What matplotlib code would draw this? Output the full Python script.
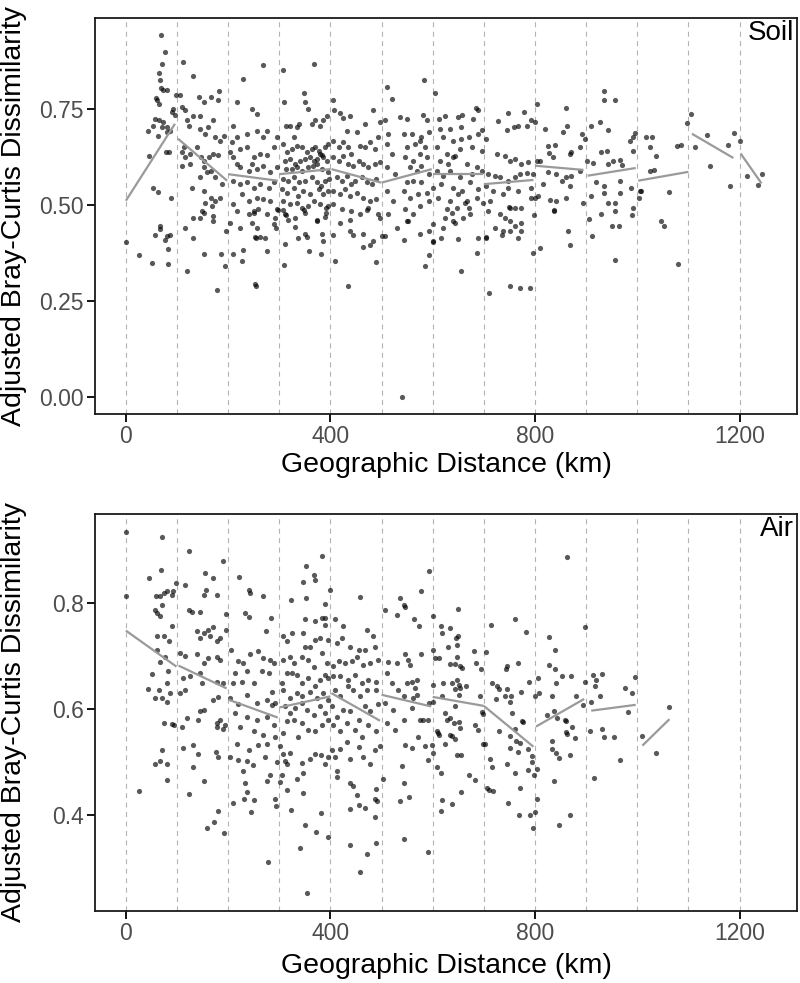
import matplotlib
matplotlib.use("Agg")
import matplotlib.pyplot as plt
import numpy as np

plt.rcParams['font.family'] = ['Liberation Sans', 'DejaVu Sans']

# (distance km, adjusted Bray-Curtis dissimilarity)
soil_pts = [
    # 0-100
    (0, .404), (25, .369), (44, .693), (46, .628), (51, .348), (53, .545), (53, .704), (57, .724), (57, .423),
    (59, .779), (60, .772), (62, .534), (62, .680), (64, .763), (64, .843), (64, .720), (66, .824), (66, .437),
    (67, .445), (68, .805), (69, .941), (70, .867), (70, .702), (73, .798), (73, .715), (77, .898), (77, .410),
    (79, .637), (80, .798), (80, .702), (80, .689), (80, .419), (83, .386), (83, .346), (85, .637), (87, .693),
    (87, .423), (88, .519), (90, .741), (93, .750), (96, .733), (98, .785),
    # 100-200
    (106, .785), (109, .754), (109, .637), (109, .602), (111, .872), (113, .650), (116, .746), (116, .624),
    (116, .441), (119, .720), (119, .328), (124, .704), (126, .633), (126, .606), (129, .545), (131, .467),
    (131, .415), (132, .834), (132, .732), (139, .650), (143, .780), (144, .732), (144, .467), (145, .698),
    (145, .572), (147, .624), (149, .485), (152, .767), (152, .598), (152, .373), (153, .615), (153, .537),
    (153, .480), (155, .685), (155, .506), (158, .585), (161, .702), (163, .624), (166, .780), (166, .589),
    (166, .519), (168, .498), (171, .721), (171, .633), (171, .458), (171, .472), (175, .676), (175, .572),
    (175, .511), (178, .278), (181, .772), (181, .631), (183, .796), (184, .667), (184, .519), (186, .373),
    (188, .554), (191, .678), (194, .341), (195, .432),
    # 200-300
    (204, .637), (204, .454), (207, .663), (210, .706), (210, .624), (210, .563), (210, .502), (210, .373),
    (217, .767), (217, .606), (218, .676), (218, .485), (223, .646), (223, .598), (223, .554), (223, .441),
    (227, .528), (228, .354), (229, .828), (230, .384), (236, .685), (236, .650), (236, .559), (240, .589),
    (240, .511), (240, .476), (246, .750), (246, .606), (246, .454), (250, .624), (250, .545), (250, .480),
    (250, .485), (253, .416), (253, .295), (254, .290), (255, .415), (256, .737), (256, .693), (256, .593),
    (256, .519), (256, .440), (259, .489), (262, .633), (262, .554), (262, .416), (268, .863), (269, .676),
    (269, .602), (269, .515), (272, .415), (276, .693), (276, .629), (276, .476), (276, .381), (279, .545),
    (282, .585), (282, .511), (289, .650), (289, .559), (289, .450), (292, .467), (293, .440), (295, .676),
    (295, .598), (295, .489), (297, .487),
    # 300-400
    (305, .541), (307, .850), (307, .486), (308, .659), (308, .567), (308, .511), (309, .343), (310, .767),
    (311, .615), (311, .476), (311, .398), (313, .704), (313, .593), (313, .473), (315, .637), (315, .532),
    (318, .563), (318, .461), (320, .502), (321, .706), (321, .620), (324, .646), (324, .593), (328, .676),
    (328, .572), (328, .545), (331, .606), (331, .467), (331, .443), (334, .702), (334, .654), (334, .598),
    (334, .506), (337, .524), (337, .415), (339, .710), (339, .559), (341, .615), (344, .650), (344, .589),
    (344, .493), (347, .537), (348, .791), (348, .487), (350, .767), (350, .620), (350, .563), (350, .480),
    (350, .424), (354, .637), (354, .416), (357, .750), (357, .598), (357, .498), (359, .381), (360, .624),
    (360, .528), (364, .710), (364, .646), (364, .572), (366, .602), (367, .867), (367, .615), (367, .511),
    (370, .720), (370, .650), (373, .620), (373, .606), (373, .559), (373, .458), (373, .461), (377, .641),
    (377, .541), (380, .706), (380, .633), (380, .502), (381, .550), (381, .372), (383, .629), (383, .593),
    (383, .424), (386, .720), (386, .624), (386, .528), (386, .405), (389, .563), (390, .650), (390, .469),
    (391, .493), (391, .478), (393, .732), (393, .615), (396, .659), (396, .585), (396, .537), (396, .498),
    (398, .567),
    # 400-500
    (406, .773), (406, .667), (406, .624), (406, .537), (406, .502), (406, .423), (407, .746), (409, .355),
    (412, .572), (416, .650), (416, .615), (418, .739), (419, .528), (419, .454), (422, .563), (422, .489),
    (425, .726), (425, .663), (425, .628), (429, .541), (432, .693), (432, .576), (435, .650), (435, .606),
    (435, .288), (438, .730), (438, .524), (438, .432), (438, .461), (441, .633), (441, .554), (441, .485),
    (445, .602), (445, .422), (448, .563), (451, .689), (451, .532), (455, .615), (458, .654), (458, .476),
    (461, .572), (464, .606), (464, .519), (464, .424), (464, .391), (468, .710), (468, .650), (471, .559),
    (471, .487), (474, .598), (474, .493), (477, .663), (477, .511), (477, .395), (481, .554), (484, .746),
    (484, .406), (487, .646), (487, .606), (490, .567), (490, .515), (490, .351), (494, .676), (494, .476),
    (496, .715), (496, .467), (497, .611), (500, .419),
    # 500-600
    (507, .720), (507, .419), (510, .807), (510, .659), (510, .598), (510, .537), (513, .685), (513, .476),
    (520, .776), (520, .633), (523, .511), (526, .580), (530, .441), (536, .728), (539, .000), (543, .685),
    (543, .537), (543, .408), (546, .624), (546, .489), (549, .724), (549, .650), (549, .559), (549, .459),
    (552, .458), (556, .598), (556, .519), (559, .685), (562, .615), (562, .563), (562, .476), (565, .659),
    (569, .589), (572, .528), (575, .667), (575, .633), (575, .498), (575, .424), (578, .676), (578, .602),
    (578, .559), (582, .733), (583, .826), (585, .650), (585, .341), (588, .720), (588, .624), (588, .532),
    (592, .689), (592, .580), (592, .511), (592, .432), (592, .371),
    # 600-700
    (600, .404), (601, .545), (601, .450), (601, .405), (605, .791), (608, .650), (608, .589), (611, .519),
    (613, .724), (614, .698), (614, .615), (617, .554), (617, .415), (621, .676), (621, .576), (621, .441),
    (624, .730), (624, .466), (627, .633), (627, .489), (630, .606), (634, .698), (634, .589), (634, .511),
    (637, .478), (640, .667), (640, .624), (640, .545), (640, .458), (643, .628), (643, .453), (647, .493),
    (650, .728), (650, .528), (650, .411), (653, .645), (653, .572), (655, .702), (656, .672), (656, .328),
    (657, .733), (657, .537), (660, .467), (663, .506), (667, .606), (667, .511), (670, .676), (670, .491),
    (673, .559), (673, .476), (676, .650), (676, .580), (679, .724), (684, .752), (686, .598), (686, .519),
    (686, .374), (688, .746), (689, .685), (689, .541), (689, .413), (696, .695), (696, .641), (696, .589),
    (699, .506),
    # 700-800
    (704, .415), (705, .672), (705, .550), (705, .416), (709, .580), (709, .483), (710, .271), (712, .511),
    (718, .537), (722, .576), (722, .441), (725, .633), (728, .718), (731, .476), (732, .572), (735, .421),
    (738, .528), (738, .432), (741, .626), (741, .467), (745, .695), (748, .739), (748, .563), (748, .545),
    (750, .494), (751, .615), (751, .493), (751, .458), (751, .431), (752, .290), (758, .702), (761, .620),
    (761, .572), (761, .493), (761, .446), (767, .706), (767, .537), (767, .415), (770, .283), (771, .580),
    (773, .606), (773, .493), (773, .454), (773, .433), (778, .741), (784, .706), (784, .584), (786, .611),
    (791, .283), (793, .720), (793, .545), (793, .519), (796, .376), (797, .580), (799, .474), (800, .715),
    (800, .519),
    # 800-900
    (803, .763), (803, .615), (806, .524), (810, .615), (810, .389), (816, .554), (820, .698), (826, .654),
    (826, .585), (828, .634), (829, .512), (836, .624), (837, .483), (838, .486), (839, .657), (842, .580),
    (842, .511), (852, .563), (855, .689), (861, .753), (861, .572), (861, .519), (862, .706), (865, .432),
    (868, .396), (869, .633), (869, .550), (871, .637), (871, .576), (888, .650), (888, .589), (891, .685),
    (894, .504), (897, .672),
    # 900-1000
    (901, .615), (906, .463), (909, .706), (909, .524), (911, .418), (914, .608), (920, .559), (927, .715),
    (930, .637), (930, .476), (935, .796), (935, .773), (935, .550), (935, .530), (940, .641), (943, .695),
    (943, .606), (943, .506), (950, .444), (953, .615), (956, .772), (956, .504), (956, .485), (956, .357),
    (964, .444), (966, .617), (967, .563), (967, .532), (971, .605), (986, .667), (988, .545), (989, .474),
    (992, .676), (992, .641), (992, .491), (995, .686),
    # 1000+
    (1004, .519), (1005, .537), (1008, .535), (1018, .676), (1024, .650), (1025, .589), (1028, .676),
    (1033, .590), (1036, .627), (1047, .458), (1053, .444), (1062, .534), (1078, .652), (1080, .347),
    (1085, .657), (1098, .713), (1105, .737), (1113, .650), (1137, .681), (1142, .602), (1178, .655),
    (1181, .550), (1189, .688), (1201, .667), (1214, .574), (1237, .551), (1244, .580),
]

# (distance km, dissimilarity)
air_pts = [
    # 0-100
    (0, .935), (1, .814), (25, .446), (44, .638), (46, .847), (51, .667), (56, .621), (57, .787), (57, .497),
    (59, .813), (61, .781), (61, .738), (61, .712), (64, .636), (66, .776), (66, .688), (67, .814), (67, .502),
    (68, .863), (70, .925), (70, .797), (70, .621), (70, .522), (74, .574), (75, .819), (75, .737), (77, .699),
    (80, .822), (80, .649), (80, .614), (80, .497), (81, .467), (83, .671), (84, .728), (87, .630), (90, .816),
    (90, .756), (90, .572), (93, .822), (95, .570), (98, .838),
    # 100-200
    (106, .706), (106, .631), (109, .567), (111, .658), (111, .526), (116, .835), (116, .701), (116, .636),
    (119, .583), (123, .899), (124, .787), (124, .439), (126, .662), (129, .784), (131, .532), (131, .490),
    (139, .748), (139, .703), (141, .580), (142, .516), (144, .784), (144, .597), (145, .734), (145, .668),
    (148, .650), (152, .687), (153, .816), (153, .743), (153, .598), (153, .464), (155, .857), (157, .824),
    (158, .375), (161, .750), (161, .696), (165, .737), (171, .847), (171, .755), (171, .618), (173, .387),
    (176, .519), (178, .816), (178, .728), (178, .699), (178, .652), (178, .574), (178, .566), (181, .623),
    (181, .510), (181, .408), (184, .734), (184, .693), (184, .580), (189, .879), (189, .649), (190, .563),
    (192, .366), (193, .570), (196, .750), (196, .780),
    # 200-300
    (204, .621), (204, .509), (206, .711), (210, .649), (210, .423), (214, .669), (214, .592), (217, .534),
    (220, .690), (220, .609), (220, .504), (222, .849), (223, .567), (227, .652), (230, .687), (230, .484),
    (231, .431), (233, .782), (233, .460), (236, .671), (236, .627), (236, .586), (236, .503), (236, .443),
    (240, .825), (240, .773), (240, .522), (242, .819), (243, .703), (244, .405), (248, .495), (250, .649),
    (250, .558), (250, .429), (256, .611), (256, .580), (259, .709), (259, .532), (266, .671), (269, .813),
    (269, .696), (269, .552), (272, .509), (274, .747), (276, .618), (276, .586), (276, .535), (276, .465),
    (277, .312), (279, .668), (282, .693), (282, .476), (283, .772), (285, .633), (285, .608), (289, .687),
    (289, .570), (292, .611), (292, .548), (292, .431), (294, .418), (295, .500),
    # 300-400
    (302, .531), (302, .462), (305, .649), (305, .475), (307, .555), (308, .737), (308, .693), (308, .636),
    (308, .516), (311, .605), (311, .503), (315, .728), (315, .668), (315, .577), (315, .447), (316, .497),
    (321, .699), (321, .621), (321, .592), (321, .518), (322, .805), (323, .409), (324, .743), (324, .669),
    (328, .580), (329, .687), (331, .602), (334, .665), (334, .630), (334, .468), (337, .548), (341, .337),
    (344, .699), (344, .649), (344, .624), (344, .611), (344, .574), (344, .499), (346, .743), (347, .839),
    (347, .479), (347, .441), (350, .769), (350, .718), (350, .381), (352, .870), (352, .809), (354, .598),
    (355, .253), (357, .693), (357, .658), (357, .561), (360, .718), (360, .633), (360, .506), (367, .853),
    (367, .680), (367, .589), (370, .844), (370, .767), (370, .731), (370, .643), (370, .558), (370, .516),
    (372, .368), (373, .621), (380, .734), (380, .655), (380, .605), (381, .513), (381, .404), (383, .772),
    (383, .706), (383, .570), (384, .889), (386, .630), (390, .798), (390, .772), (390, .759), (390, .665),
    (390, .592), (390, .497), (393, .687), (396, .731), (396, .658), (396, .618), (396, .580), (396, .509),
    (396, .359),
    # 400-500
    (400, .825), (403, .605), (403, .522), (406, .681), (406, .662), (406, .570), (408, .769), (409, .636),
    (409, .509), (412, .725), (412, .586), (412, .484), (413, .472), (416, .690), (419, .662), (419, .624),
    (419, .558), (419, .525), (422, .734), (425, .756), (425, .599), (429, .687), (432, .574), (432, .538),
    (435, .655), (435, .643), (438, .718), (438, .596), (438, .506), (438, .460), (438, .411), (438, .343),
    (442, .690), (445, .636), (445, .454), (448, .665), (448, .561), (451, .699), (451, .437), (455, .712),
    (455, .580), (455, .528), (455, .419), (458, .811), (458, .624), (458, .293), (461, .649), (461, .548),
    (464, .684), (464, .509), (467, .414), (468, .712), (468, .605), (471, .750), (471, .636), (471, .326),
    (474, .655), (474, .570), (477, .687), (477, .596), (477, .497), (484, .737), (487, .718), (487, .522),
    (487, .431), (487, .396), (490, .652), (490, .636), (490, .558), (490, .450), (490, .348), (491, .426),
    (494, .693), (494, .610), (497, .531),
    # 500-600
    (503, .468), (507, .787), (507, .611), (510, .668), (510, .574), (513, .688), (520, .649), (523, .599),
    (526, .561), (530, .778), (530, .687), (533, .636), (536, .809), (536, .426), (540, .492), (543, .797),
    (543, .624), (543, .580), (543, .461), (543, .355), (546, .792), (546, .703), (546, .533), (549, .649),
    (552, .693), (553, .435), (556, .684), (559, .652), (559, .602), (559, .527), (562, .621), (564, .769),
    (565, .640), (569, .655), (569, .627), (572, .547), (573, .757), (575, .580), (578, .822), (578, .704),
    (582, .580), (585, .531), (591, .580), (591, .504), (591, .330), (593, .861), (593, .612), (598, .533),
    # 600-700
    (601, .775), (601, .712), (601, .646), (601, .613), (601, .517), (604, .696), (608, .558), (609, .491),
    (611, .555), (613, .696), (613, .552), (616, .407), (617, .757), (617, .480), (618, .625), (619, .743),
    (619, .429), (621, .649), (624, .592), (624, .534), (627, .580), (629, .717), (633, .753), (634, .685),
    (634, .583), (634, .552), (637, .650), (637, .550), (637, .421), (641, .574), (643, .685), (643, .637),
    (643, .605), (643, .544), (645, .734), (647, .655), (647, .514), (648, .721), (648, .699), (650, .789),
    (650, .738), (652, .646), (652, .627), (652, .575), (653, .681), (653, .640), (653, .564), (656, .514),
    (656, .443), (657, .677), (666, .643), (670, .476), (681, .709), (683, .570), (683, .467), (685, .686),
    (689, .561), (692, .624), (695, .675), (696, .595), (699, .591), (699, .534),
    # 700-800
    (702, .534), (704, .708), (707, .451), (711, .447), (712, .506), (714, .759), (715, .650), (715, .490),
    (717, .445), (723, .619), (725, .643), (730, .638), (730, .558), (741, .624), (743, .676), (745, .638),
    (746, .681), (746, .497), (748, .423), (751, .614), (751, .549), (751, .526), (754, .625), (756, .592),
    (760, .769), (761, .562), (761, .479), (763, .539), (766, .519), (767, .686), (768, .400), (770, .536),
    (771, .451), (773, .633), (774, .577), (776, .575), (783, .745), (786, .525), (786, .485), (789, .652),
    (790, .400), (795, .501), (795, .512), (797, .375), (798, .476),
    # 800-900
    (800, .624), (800, .405), (803, .431), (804, .487), (805, .659), (807, .630), (823, .589), (827, .736),
    (827, .684), (833, .625), (833, .539), (833, .524), (837, .464), (838, .596), (839, .675), (840, .711),
    (842, .650), (842, .517), (844, .584), (847, .508), (847, .381), (852, .662), (858, .580), (860, .577),
    (861, .556), (862, .553), (863, .887), (868, .514), (869, .401), (870, .662), (872, .566), (878, .545),
    (881, .625), (893, .608), (898, .755), (898, .652),
    # 900+
    (907, .559), (909, .614), (913, .664), (916, .470), (917, .643), (920, .655), (928, .625), (931, .667),
    (931, .562), (935, .547), (954, .548), (967, .504), (976, .640), (981, .594), (989, .631), (995, .660),
    (1010, .549), (1036, .517), (1063, .604),
]

# per-100 km linear fits: (x start, y start, x end, y end)
soil_fits = [
    (0, .511, 96, .711), (102, .672, 198, .563), (200, .580, 297, .563), (300, .580, 400, .593),
    (402, .593, 499, .558), (500, .558, 598, .593), (600, .580, 699, .580), (700, .554, 797, .565),
    (800, .602, 895, .591), (903, .576, 997, .596), (1002, .563, 1100, .586), (1107, .685, 1188, .622),
    (1202, .634, 1243, .556),
]
air_fits = [
    (0, .748, 99, .680), (103, .682, 197, .639), (200, .618, 297, .584), (300, .603, 400, .624),
    (402, .630, 497, .578), (500, .627, 597, .605), (600, .623, 700, .606), (700, .606, 797, .529),
    (802, .567, 896, .619), (910, .597, 997, .608), (1010, .531, 1063, .581),
]

bin_edges = list(range(0, 1300, 100))

fig = plt.figure(figsize=(8, 9.83), dpi=100)
ax_soil = fig.add_axes([0.119, 0.5788, 0.877, 0.4029])
ax_air = fig.add_axes([0.119, 0.0732, 0.877, 0.4039])

panels = [
    (ax_soil, soil_pts, soil_fits, "Soil", (-0.0436, 0.986), [0, 0.25, 0.5, 0.75], ["0.00", "0.25", "0.50", "0.75"]),
    (ax_air, air_pts, air_fits, "Air", (0.219, 0.968), [0.4, 0.6, 0.8], ["0.4", "0.6", "0.8"]),
]

for ax, pts, fits, name, ylim, yt, ytl in panels:
    for e in bin_edges:
        ax.axvline(e, color="#b3b3b3", lw=0.8, dashes=(4.5, 4), zorder=1)
    km, bc = zip(*pts)
    ax.scatter(km, bc, s=14, color="black", alpha=0.65, linewidths=0, zorder=2)
    for x0, y0, x1, y1 in fits:
        ax.plot([x0, x1], [y0, y1], color="#9a9a9a", lw=1.6, zorder=3, solid_capstyle="butt")
    ax.set_xlim(-60, 1312)
    ax.set_ylim(*ylim)
    ax.set_xticks([0, 400, 800, 1200])
    ax.set_yticks(yt)
    ax.set_yticklabels(ytl)
    ax.tick_params(axis="both", labelsize=16.5, labelcolor="#4d4d4d", length=5.5, width=1.3,
                   direction="out", pad=2.5)
    for sp in ax.spines.values():
        sp.set_linewidth(1.3)
        sp.set_color("#1a1a1a")
    ax.text(0.996, 0.995, name, transform=ax.transAxes, ha="right", va="top", fontsize=20)

fig.text(0.5575, 1 - 465 / 983, "Geographic Distance (km)", ha="center", va="center", fontsize=20.5)
fig.text(0.5575, 1 - 966 / 983, "Geographic Distance (km)", ha="center", va="center", fontsize=20.5)
fig.text(0.018, 1 - 216 / 983, "Adjusted Bray-Curtis Dissimilarity", rotation=90,
         ha="center", va="center", fontsize=20.5)
fig.text(0.018, 1 - 712 / 983, "Adjusted Bray-Curtis Dissimilarity", rotation=90,
         ha="center", va="center", fontsize=20.5)

fig.savefig("out.png", dpi=100)
